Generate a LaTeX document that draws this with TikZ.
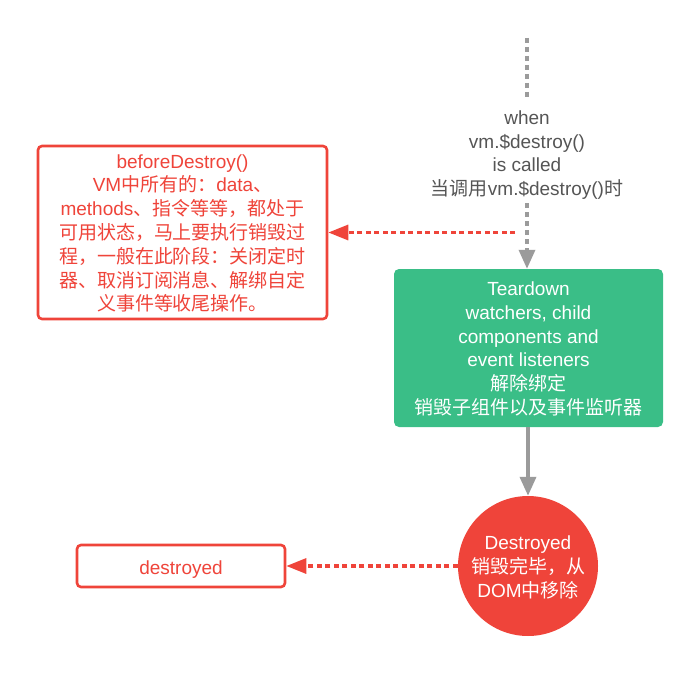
\documentclass[tikz,border=0pt]{standalone}
\usepackage{fontspec}
\setmainfont{Liberation Sans}
\newfontfamily\cjk{Noto Sans CJK SC}
\newcommand{\zh}[1]{{\cjk #1}}
\usetikzlibrary{arrows.meta}
\definecolor{myred}{RGB}{239,68,58}
\definecolor{mygreen}{RGB}{58,190,135}
\definecolor{mygray}{RGB}{155,155,155}
\definecolor{txtgray}{RGB}{85,85,85}
\begin{document}
\begin{tikzpicture}[x=1pt,y=-1pt,
  txt/.style={font=\fontsize{19}{23.8}\selectfont, align=center, inner sep=0pt},
  redbox/.style={draw=myred, line width=2.6pt, rounded corners=4pt, fill=white},
  greybar/.style={draw=mygray, line width=3.6pt},
  dotg/.style={draw=mygray, line width=3.4pt, dash pattern=on 5pt off 4pt},
  dotr/.style={draw=myred, line width=3.2pt, dash pattern=on 5pt off 3.5pt},
  tipg/.style={-{Triangle[length=19pt,width=16pt]}},
  tipr/.style={-{Triangle[length=20pt,width=15pt]}}
]
\useasboundingbox (0,0) rectangle (699,677);
\coordinate (top) at (527,38);
\node[txt, text=txtgray] (when) at (527,155) {when\\vm.\$destroy()\\is called\\\zh{当调用}vm.\$destroy()\zh{时}};
% green box
\node[draw=none, fill=mygreen, rounded corners=5pt, minimum width=269pt, minimum height=158pt, inner sep=0pt] (green) at (528.5,348) {};
\node[txt, text=white] at ([yshift=-1pt]green.center) {Teardown\\watchers, child\\components and\\event listeners\\\zh{解除绑定}\\\zh{销毁子组件以及事件监听器}};
% before destroy box
\node[redbox, minimum width=289pt, minimum height=173pt, inner sep=0pt] (before) at (182.5,232.5) {};
\node[txt, text=myred] at ([yshift=-1pt]before.center) {beforeDestroy()\\VM\zh{中所有的：}data\zh{、}\\methods\zh{、指令等等，都处于}\\\zh{可用状态，马上要执行销毁过}\\\zh{程，一般在此阶段：关闭定时}\\\zh{器、取消订阅消息、解绑自定}\\\zh{义事件等收尾操作。}};
% circle
\node[circle, fill=myred, minimum size=140pt, inner sep=0pt] (dest) at (528,566) {};
\node[txt, text=white] at ([yshift=-1.5pt]dest.center) {Destroyed\\\zh{销毁完毕，从}\\DOM\zh{中移除}};
% destroyed box
\node[redbox, minimum width=208pt, minimum height=42pt, inner sep=0pt] (destroyed) at (181,566) {};
\node[text=myred, font=\fontsize{19}{20}\selectfont, inner sep=0pt] at ([yshift=-3.5pt]destroyed.center) {destroyed};
% connectors
\coordinate (t1) at (527,100);
\coordinate (t2) at (527,203);
\draw[dotg] (top) -- (t1);
\draw[dotg, tipg] (t2) -- (green.north -| t2);
\coordinate (rs) at (515,232.5);
\draw[dotr, tipr] (rs) -- (before.east);
\draw[greybar, tipg] (green.south -| dest.north) -- (dest.north);
\draw[dotr, tipr] (dest.west) -- (destroyed.east);
\end{tikzpicture}
\end{document}
